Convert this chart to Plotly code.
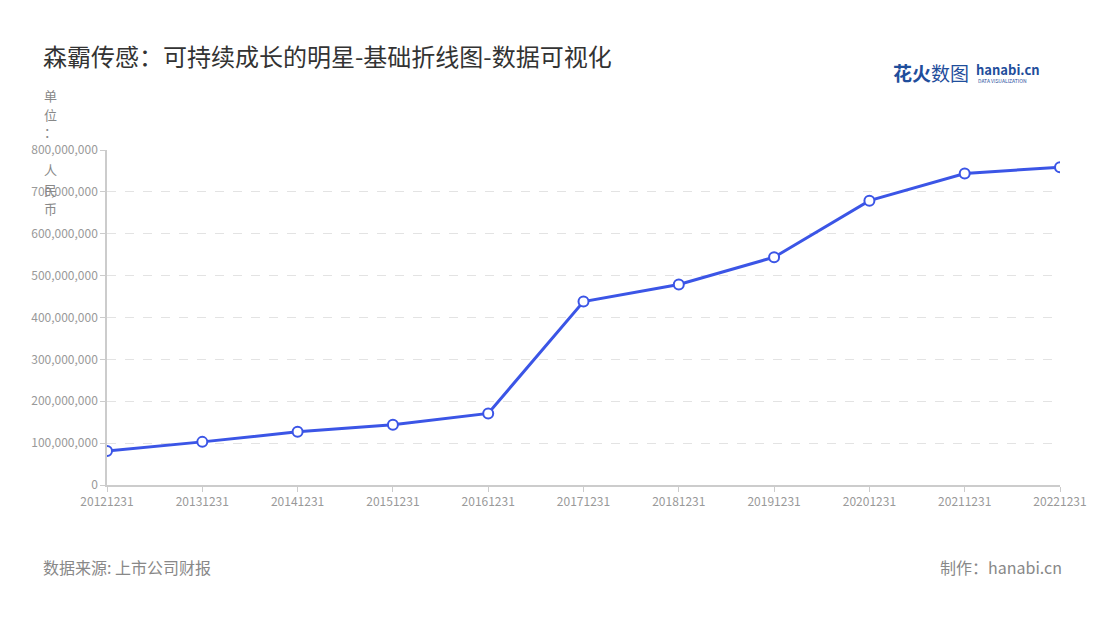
import plotly.graph_objects as go

dates = ["20121231", "20131231", "20141231", "20151231", "20161231", "20171231",
         "20181231", "20191231", "20201231", "20211231", "20221231"]
revenue = [81e6, 103e6, 127e6, 144e6, 171e6, 438e6, 479e6, 544e6, 679e6, 744e6, 759e6]
y_ticks = [0, 100e6, 200e6, 300e6, 400e6, 500e6, 600e6, 700e6, 800e6]

FONT = "Noto Sans CJK SC, Noto Sans, sans-serif"
BLUE = "#3b55e6"

# page offset (body margin) is 8px; plot area on page: x 107..1060, y 150..485
L, T, W, H = 107, 150, 953, 335


def px(xp):
    return (xp - L) / W


def py(yp):
    return (T + H - yp) / H


fig = go.Figure()
fig.add_trace(go.Scatter(
    x=dates, y=revenue, mode="lines+markers",
    line=dict(color=BLUE, width=3),
    marker=dict(size=10, color="white", line=dict(color=BLUE, width=2)),
    hoverinfo="x+y",
))

fig.update_layout(
    width=1100, height=620,
    margin=dict(l=99, r=48, t=142, b=143),
    paper_bgcolor="white", plot_bgcolor="white",
    font=dict(family=FONT, color="#999", size=12),
    showlegend=False,
    xaxis=dict(
        type="category", range=[0, len(dates) - 1],
        showline=True, linecolor="#ccc", linewidth=1.5,
        ticks="outside", ticklen=5, tickcolor="#ccc",
        showgrid=False, zeroline=False,
        tickfont=dict(size=12, color="#999"),
    ),
    yaxis=dict(
        range=[0, 800e6], tickvals=y_ticks, tickformat=",",
        showline=True, linecolor="#ccc", linewidth=1.5,
        ticks="outside", ticklen=5, tickcolor="#ccc",
        showgrid=True, gridcolor="#e3e3e3", griddash="dash",
        zeroline=False,
        tickfont=dict(size=12, color="#999"),
    ),
)

fig.add_annotation(text="森霸传感：可持续成长的明星-基础折线图-数据可视化",
                   xref="paper", yref="paper", x=px(41), y=py(55),
                   xanchor="left", yanchor="middle", showarrow=False,
                   font=dict(size=24, color="#333", family=FONT))

# vertical unit label
unit_chars = [("单", 95), ("位", 114), ("：", 132), ("人", 170), ("民", 189), ("币", 208)]
for ch, ypx in unit_chars:
    fig.add_annotation(text=ch, xref="paper", yref="paper",
                       x=px(50), y=py(ypx),
                       xanchor="center", yanchor="middle", showarrow=False,
                       font=dict(size=13, color="#888", family=FONT))

# logo
fig.add_annotation(text="<b>花火</b>数图", xref="paper", yref="paper",
                   x=px(891), y=py(72), xanchor="left", yanchor="middle",
                   showarrow=False, font=dict(size=19, color="#1f4e9c", family=FONT))
fig.add_annotation(text="<b>hanabi.cn</b>", xref="paper", yref="paper",
                   x=px(974), y=py(69), xanchor="left", yanchor="middle",
                   showarrow=False, font=dict(size=13, color="#1f4e9c", family=FONT))
fig.add_annotation(text="DATA VISUALIZATION", xref="paper", yref="paper",
                   x=px(976), y=py(80), xanchor="left", yanchor="middle",
                   showarrow=False, font=dict(size=5, color="#1f4e9c", family=FONT))

# footer
fig.add_annotation(text="数据来源: 上市公司财报", xref="paper", yref="paper",
                   x=px(41), y=py(567), xanchor="left", yanchor="middle",
                   showarrow=False, font=dict(size=16, color="#888", family=FONT))
fig.add_annotation(text="制作：hanabi.cn", xref="paper", yref="paper",
                   x=px(1064), y=py(567), xanchor="right", yanchor="middle",
                   showarrow=False, font=dict(size=16, color="#888", family=FONT))

fig.write_html("out.html")
